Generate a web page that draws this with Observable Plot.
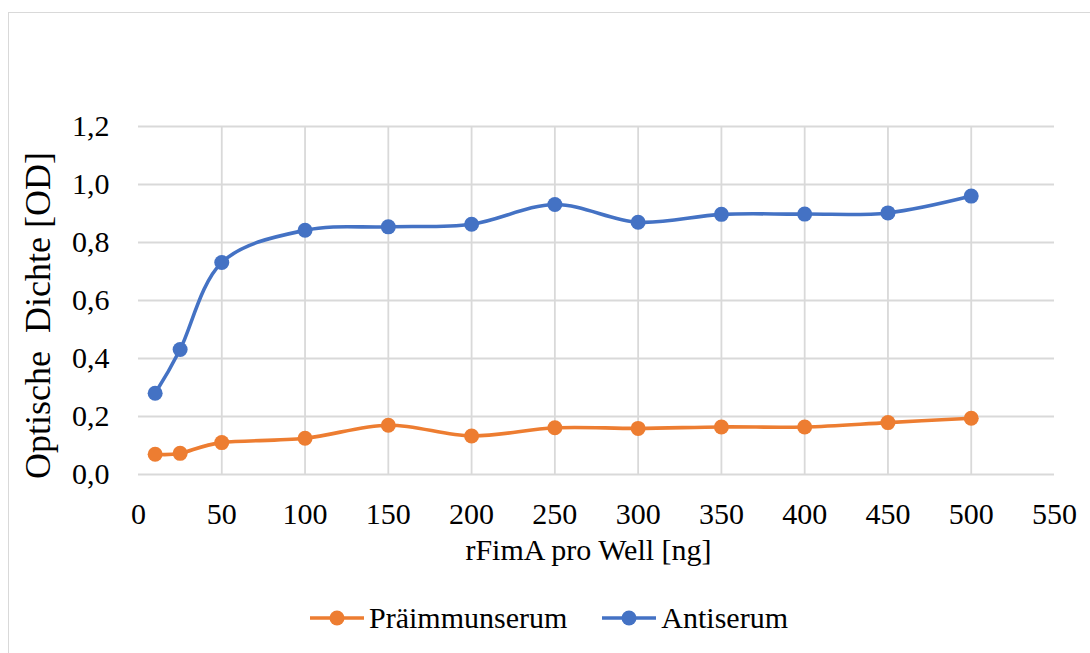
<!DOCTYPE html>
<html>
<head>
<meta charset="utf-8">
<script src="https://cdn.jsdelivr.net/npm/d3@7"></script>
<script src="https://cdn.jsdelivr.net/npm/@observablehq/plot@0.6"></script>
</head>
<body style="margin:0;font-family:'Liberation Serif',serif">
<div id="wrap" style="position:relative;width:1090px;height:653px;overflow:hidden;background:#fff">
  <div style="position:absolute;left:8px;top:12px;width:1100px;height:700px;border:1.5px solid #d9d9d9;box-sizing:border-box"></div>
  <div id="chart" style="position:absolute;left:0;top:0"></div>
  <div id="legend" style="position:absolute;left:310px;top:598px;height:40px;display:flex;align-items:center;font-family:'Liberation Serif',serif;font-size:30px;color:#000"></div>
</div>
<script>
// rFimA amount per well (ng)
const amounts = [10, 25, 50, 100, 150, 200, 250, 300, 350, 400, 450, 500];
// optical density readings per serum
const preimmune = [0.07, 0.073, 0.11, 0.125, 0.17, 0.133, 0.161, 0.159, 0.164, 0.164, 0.179, 0.194];
const antiserum = [0.28, 0.431, 0.731, 0.842, 0.854, 0.863, 0.931, 0.870, 0.897, 0.898, 0.902, 0.960];
const seriesNames = ["Präimmunserum", "Antiserum"];
const seriesColors = ["#ED7D31", "#4472C4"];
const xTicks = [0, 50, 100, 150, 200, 250, 300, 350, 400, 450, 500, 550];
const yTicks = [0, 0.2, 0.4, 0.6, 0.8, 1.0, 1.2];
const xTitle = "rFimA pro Well [ng]";
const yTitle = "Optische  Dichte [OD]";

const rows = [
  ...amounts.map((x, i) => ({x, y: preimmune[i], s: seriesNames[0]})),
  ...amounts.map((x, i) => ({x, y: antiserum[i], s: seriesNames[1]}))
];

const fmt = d => d.toFixed(1).replace(".", ",");
const smooth = d3.curveCardinal.tension(0);
const font = "Liberation Serif";

const chart = Plot.plot({
  width: 1090,
  height: 596,
  marginLeft: 138,
  marginRight: 36,
  marginTop: 126,
  marginBottom: 122,
  style: {fontFamily: font, fontSize: "30px", background: "transparent"},
  x: {domain: [0, 550]},
  y: {domain: [0, 1.2]},
  color: {domain: seriesNames, range: seriesColors},
  marks: [
    Plot.ruleX(xTicks.filter(t => t > 0 && t < 550), {stroke: "#d9d9d9", strokeWidth: 1.8}),
    Plot.ruleY(yTicks, {stroke: "#d9d9d9", strokeWidth: 1.8}),
    Plot.axisX(xTicks, {tickSize: 0, tickPadding: 28, label: null, fill: "#000"}),
    Plot.axisY(yTicks, {tickSize: 0, tickPadding: 29, label: null, tickFormat: fmt, fill: "#000"}),
    Plot.line(rows, {x: "x", y: "y", z: "s", stroke: "s", strokeWidth: 3.6, curve: smooth}),
    Plot.dot(rows, {x: "x", y: "y", fill: "s", r: 7.5, stroke: null}),
    Plot.text([xTitle], {frameAnchor: "bottom", dy: 85, dx: -8, fill: "#000"}),
    Plot.text([yTitle], {frameAnchor: "left", textAnchor: "middle", dx: -100, dy: 15, rotate: -90, fontSize: 36, fill: "#000"})
  ]
});
document.getElementById("chart").appendChild(chart);

// legend: line with centered marker, then series name
const legend = d3.select("#legend");
seriesNames.forEach((name, i) => {
  const item = legend.append("div")
    .style("display", "flex").style("align-items", "center")
    .style("margin-right", i === 0 ? "35px" : "0");
  const sw = item.append("svg").attr("width", 54).attr("height", 20).style("margin-right", "5px");
  sw.append("line").attr("x1", 0).attr("x2", 54).attr("y1", 10).attr("y2", 10)
    .attr("stroke", seriesColors[i]).attr("stroke-width", 3.6);
  sw.append("circle").attr("cx", 27).attr("cy", 10).attr("r", 7.5).attr("fill", seriesColors[i]);
  item.append("span").text(name);
});
</script>
</body>
</html>
